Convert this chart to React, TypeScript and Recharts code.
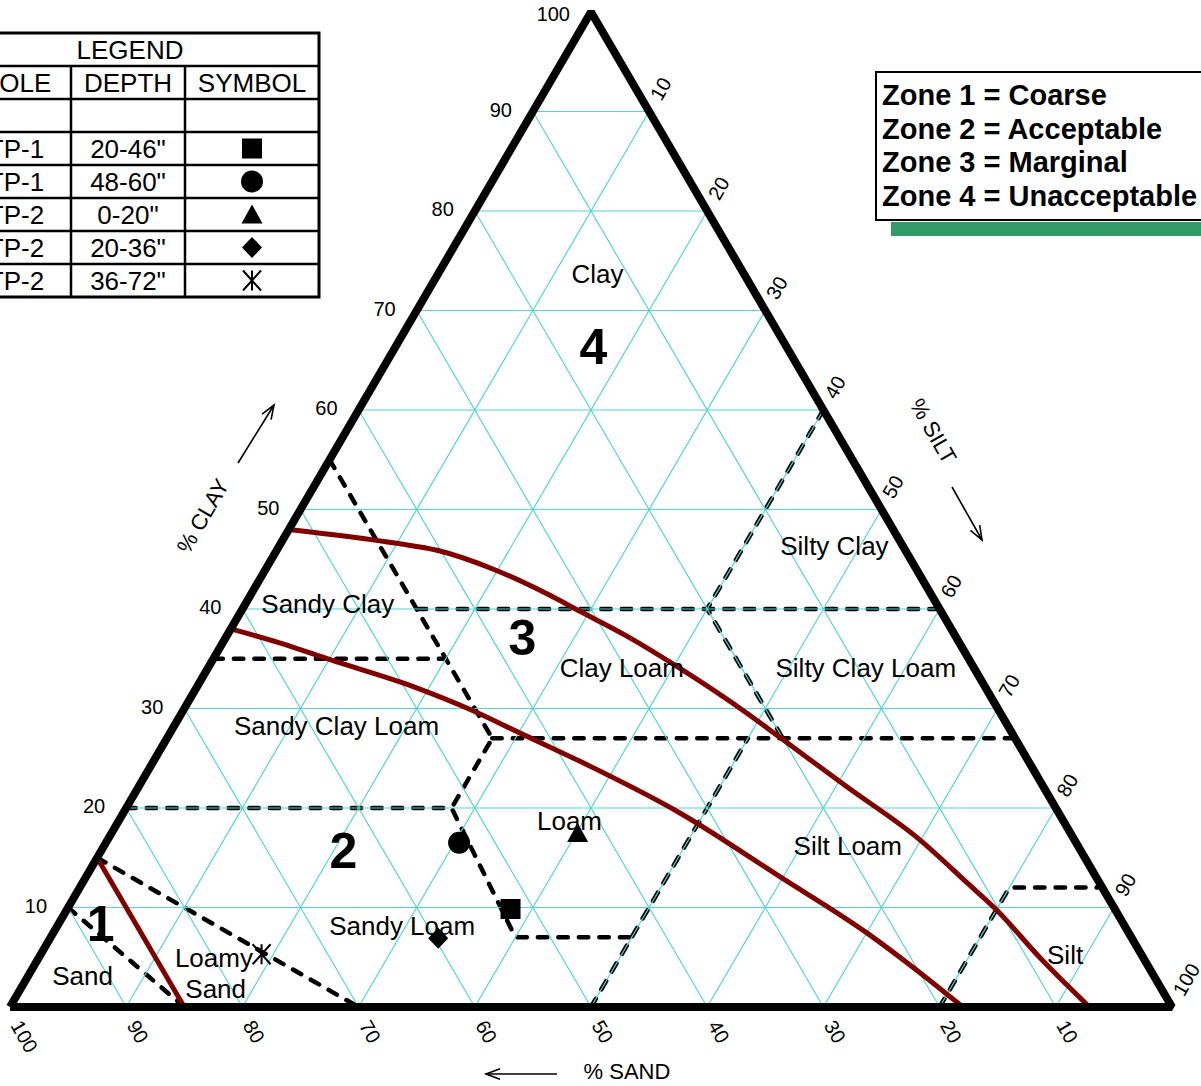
import React from "react";
import { ComposedChart, Line, Scatter, XAxis, YAxis } from "recharts";

const FONT = '"Liberation Sans", Arial, Helvetica, sans-serif';
const GRID_COLOR = "#55d4d4";
const ZONE_COLOR = "#800000";

// every point is [sand %, clay %]; silt is whatever is left
const GRID_STEPS = [10, 20, 30, 40, 50, 60, 70, 80, 90];
const CLAY_TICKS = [10, 20, 30, 40, 50, 60, 70, 80, 90, 100];
const SAND_TICKS = [100, 90, 80, 70, 60, 50, 40, 30, 20, 10];
const SILT_TICKS = [10, 20, 30, 40, 50, 60, 70, 80, 90, 100];

const TRIANGLE = [[100, 0], [0, 100], [0, 0], [100, 0]];

// USDA texture class boundaries (dashed)
const BOUNDARIES = [
  [[90, 10], [85, 0]],
  [[85, 15], [70, 0]],
  [[80, 20], [52, 20], [53, 7], [43, 7]],
  [[50, 0], [23, 27]],
  [[65, 35], [45, 35]],
  [[45, 55], [45, 27], [52, 20]],
  [[45, 27], [0, 27]],
  [[45, 40], [0, 40]],
  [[0, 60], [20, 40], [20, 27]],
  [[20, 0], [8, 12], [0, 12]],
];

// zone limits (dark red)
const ZONE_1_2 = [[85, 15], [85, 0]];
const ZONE_2_3 = [
  [62, 38], [58.5, 36.6], [55, 34.9], [49.2, 32.2], [45.3, 29.8], [42.3, 27.5],
  [39, 25], [32.6, 19.5], [27.2, 13.1], [22.5, 7.4], [20.3, 4], [18, 0],
];
const ZONE_3_4 = [
  [52, 48], [43.4, 46.6], [40.3, 45.9], [36.4, 44], [33, 41.5], [31.1, 39.8],
  [28.1, 37.1], [25.3, 34], [21.8, 29.5], [20.2, 27.1], [16.9, 22.1],
  [13.3, 16.8], [11.4, 12.5], [10.2, 9.7], [8.9, 5], [7.1, 0],
];

const CLASS_NAMES = [
  "Clay", "Silty Clay", "Sandy Clay", "Clay Loam", "Silty Clay Loam",
  "Sandy Clay Loam", "Loam", "Silt Loam", "Sandy Loam", "Sand", "Loamy", "Sand", "Silt",
];
const CLASS_SAND = [12.6, 5.9, 52.4, 30.3, 9.3, 57.8, 42.5, 19.8, 62.2, 92.2, 80.0, 81.4, 6.6];
const CLASS_CLAY = [73.7, 46.3, 40.5, 34.1, 34.1, 28.2, 18.7, 16.2, 8.1, 3.1, 4.9, 1.8, 5.2];

const ZONE_NUMBERS = ["1", "2", "3", "4"];
const ZONE_SAND = [88.0, 63.4, 37.3, 16.6];
const ZONE_CLAY = [8.4, 15.8, 37.2, 66.4];

const SAMPLE_HOLES = ["TP-1", "TP-1", "TP-2", "TP-2", "TP-2"];
const SAMPLE_DEPTHS = ['20-46"', '48-60"', '0-20"', '20-36"', '36-72"'];
const SAMPLE_SYMBOLS = ["square", "circle", "triangle", "diamond", "star"];
const SAMPLE_SAND = [52.0, 53.1, 42.4, 59.7, 75.7];
const SAMPLE_CLAY = [9.85, 16.5, 17.5, 6.9, 5.3];

const ZONE_TEXT = [
  "Zone 1 = Coarse",
  "Zone 2 = Acceptable",
  "Zone 3 = Marginal",
  "Zone 4 = Unacceptable",
];

// ternary -> plot coords: x runs 0..100 along the base, y is clay
const toXY = (sand: number, clay: number) => ({ x: 100 - sand - clay / 2, y: clay });
const path = (pts: number[][]) => pts.map(([s, c]) => toXY(s, c));

const gridSegments = GRID_STEPS.flatMap((v) => [
  path([[100 - v, v], [0, v]]),
  path([[v, 100 - v], [v, 0]]),
  path([[100 - v, 0], [0, 100 - v]]),
]);

const tickPoints = [
  ...CLAY_TICKS.map((c) => ({ ...toXY(100 - c, c), label: String(c), side: "clay" })),
  ...SAND_TICKS.map((s) => ({ ...toXY(s, 0), label: String(s), side: "sand" })),
  ...SILT_TICKS.map((t) => ({ ...toXY(0, 100 - t), label: String(t), side: "silt" })),
];

const classPoints = CLASS_NAMES.map((name, i) => ({
  ...toXY(CLASS_SAND[i], CLASS_CLAY[i]),
  label: name,
}));
const zonePoints = ZONE_NUMBERS.map((n, i) => ({
  ...toXY(ZONE_SAND[i], ZONE_CLAY[i]),
  label: n,
}));
const samplePoints = SAMPLE_SYMBOLS.map((kind, i) => ({
  ...toXY(SAMPLE_SAND[i], SAMPLE_CLAY[i]),
  kind,
}));

function Marker({ kind, cx, cy }: { kind: string; cx: number; cy: number }) {
  switch (kind) {
    case "square":
      return <rect x={cx - 10} y={cy - 10} width={20} height={20} fill="#000" />;
    case "circle":
      return <circle cx={cx} cy={cy} r={11} fill="#000" />;
    case "triangle":
      return (
        <polygon
          points={`${cx},${cy - 10} ${cx + 10.5},${cy + 9} ${cx - 10.5},${cy + 9}`}
          fill="#000"
        />
      );
    case "diamond":
      return (
        <polygon
          points={`${cx},${cy - 10.5} ${cx + 10},${cy} ${cx},${cy + 10.5} ${cx - 10},${cy}`}
          fill="#000"
        />
      );
    default:
      return (
        <g stroke="#000" strokeWidth={2}>
          <line x1={cx} y1={cy - 10} x2={cx} y2={cy + 10} />
          <line x1={cx - 9} y1={cy - 10} x2={cx + 9} y2={cy + 10} />
          <line x1={cx + 9} y1={cy - 10} x2={cx - 9} y2={cy + 10} />
        </g>
      );
  }
}

function TickLabel(p: any) {
  const { cx, cy, payload } = p;
  const common = { fontFamily: FONT, fontSize: 20, fill: "#000" };
  if (payload.side === "clay") {
    return (
      <text
        x={cx - 21}
        y={payload.label === "100" ? cy + 2 : cy - 2}
        textAnchor="end"
        dominantBaseline="central"
        {...common}
      >
        {payload.label}
      </text>
    );
  }
  if (payload.side === "sand") {
    return (
      <text
        transform={`translate(${cx + 6},${cy + 15}) rotate(60)`}
        dominantBaseline="central"
        {...common}
      >
        {payload.label}
      </text>
    );
  }
  return (
    <text
      transform={`translate(${cx + 6},${cy - 13}) rotate(-60)`}
      dominantBaseline="central"
      {...common}
    >
      {payload.label}
    </text>
  );
}

function Arrow({ x1, y1, x2, y2 }: { x1: number; y1: number; x2: number; y2: number }) {
  const a = Math.atan2(y2 - y1, x2 - x1);
  const len = 15;
  const spread = 0.36;
  const p1 = `${x2 - len * Math.cos(a - spread)},${y2 - len * Math.sin(a - spread)}`;
  const p2 = `${x2 - len * Math.cos(a + spread)},${y2 - len * Math.sin(a + spread)}`;
  return (
    <g stroke="#000" strokeWidth={1.6} fill="none">
      <line x1={x1} y1={y1} x2={x2} y2={y2} />
      <polyline points={`${p1} ${x2},${y2} ${p2}`} />
    </g>
  );
}

function Overlay() {
  const rowY = [33, 66, 99, 132, 165, 198, 231, 264, 297];
  const t = { fontFamily: FONT, fontSize: 26, fill: "#000", textAnchor: "middle" as const };
  return (
    <svg
      width={1201}
      height={1086}
      style={{ position: "absolute", left: 0, top: 0, pointerEvents: "none" }}
    >
      {/* legend table */}
      <rect x={-39} y={33} width={358} height={264} fill="#fff" stroke="#000" strokeWidth={3} />
      {rowY.slice(1, -1).map((y) => (
        <line key={y} x1={-39} y1={y} x2={319} y2={y} stroke="#000" strokeWidth={2.5} />
      ))}
      <line x1={71} y1={66} x2={71} y2={297} stroke="#000" strokeWidth={2.5} />
      <line x1={185} y1={66} x2={185} y2={297} stroke="#000" strokeWidth={2.5} />
      <text x={130} y={59} {...t}>LEGEND</text>
      <text x={16} y={92} {...t}>HOLE</text>
      <text x={128} y={92} {...t}>DEPTH</text>
      <text x={252} y={92} {...t}>SYMBOL</text>
      {SAMPLE_HOLES.map((h, i) => {
        const cy = 148.5 + i * 33;
        return (
          <g key={i}>
            <text x={16} y={cy + 9} {...t}>{h}</text>
            <text x={128} y={cy + 9} {...t}>{SAMPLE_DEPTHS[i]}</text>
            <Marker kind={SAMPLE_SYMBOLS[i]} cx={252} cy={cy} />
          </g>
        );
      })}

      {/* zone key */}
      <rect x={891} y={222} width={320} height={14} fill="#339966" />
      <rect x={876} y={72} width={340} height={148} fill="#fff" stroke="#000" strokeWidth={2} />
      {ZONE_TEXT.map((z, i) => (
        <text
          key={z}
          x={882}
          y={105 + i * 33.5}
          fontFamily={FONT}
          fontSize={29}
          fontWeight="bold"
          fill="#000"
        >
          {z}
        </text>
      ))}

      {/* axis titles */}
      <text
        transform="translate(203,516) rotate(-60)"
        textAnchor="middle"
        dominantBaseline="central"
        fontFamily={FONT}
        fontSize={22}
      >
        % CLAY
      </text>
      <Arrow x1={238} y1={463} x2={274} y2={405} />
      <text
        transform="translate(933,431) rotate(60)"
        textAnchor="middle"
        dominantBaseline="central"
        fontFamily={FONT}
        fontSize={22}
      >
        % SILT
      </text>
      <Arrow x1={952} y1={487} x2={982} y2={540} />
      <text x={627} y={1079} textAnchor="middle" fontFamily={FONT} fontSize={22}>
        % SAND
      </text>
      <Arrow x1={557} y1={1074} x2={486} y2={1074} />
    </svg>
  );
}

export default function App() {
  const lineProps = {
    dataKey: "y",
    dot: false,
    activeDot: false,
    isAnimationActive: false,
    type: "linear" as const,
  };
  return (
    <div
      style={{
        position: "absolute",
        left: 0,
        top: 0,
        width: 1201,
        height: 1086,
        overflow: "hidden",
        background: "#fff",
        fontFamily: FONT,
      }}
    >
      <ComposedChart
        width={1201}
        height={1086}
        margin={{ top: 12, right: 29, bottom: 79, left: 10 }}
      >
        <XAxis type="number" dataKey="x" domain={[0, 100]} hide />
        <YAxis type="number" dataKey="y" domain={[0, 100]} hide />

        {BOUNDARIES.map((b, i) => (
          <Line
            key={`b${i}`}
            {...lineProps}
            data={path(b)}
            stroke="#000"
            strokeWidth={4.5}
            strokeDasharray="9.5 11"
            strokeLinecap="round"
          />
        ))}

        {gridSegments.map((seg, i) => (
          <Line key={`g${i}`} {...lineProps} data={seg} stroke={GRID_COLOR} strokeWidth={1.2} />
        ))}

        {[ZONE_1_2, ZONE_2_3, ZONE_3_4].map((z, i) => (
          <Line
            key={`z${i}`}
            {...lineProps}
            type={i === 0 ? "linear" : "monotone"}
            data={path(z)}
            stroke={ZONE_COLOR}
            strokeWidth={5}
            strokeLinecap="round"
          />
        ))}

        <Line
          {...lineProps}
          data={path(TRIANGLE)}
          stroke="#000"
          strokeWidth={8}
          strokeLinejoin="bevel"
        />

        <Scatter
          data={tickPoints}
          isAnimationActive={false}
          shape={(p: any) => <TickLabel {...p} />}
        />
        <Scatter
          data={classPoints}
          isAnimationActive={false}
          shape={(p: any) => (
            <text
              x={p.cx}
              y={p.cy + 9}
              textAnchor="middle"
              fontFamily={FONT}
              fontSize={26}
              fill="#000"
            >
              {p.payload.label}
            </text>
          )}
        />
        <Scatter
          data={zonePoints}
          isAnimationActive={false}
          shape={(p: any) => (
            <text
              x={p.cx}
              y={p.cy + 18}
              textAnchor="middle"
              fontFamily={FONT}
              fontSize={50}
              fontWeight="bold"
              fill="#000"
            >
              {p.payload.label}
            </text>
          )}
        />
        <Scatter
          data={samplePoints}
          isAnimationActive={false}
          shape={(p: any) => <Marker kind={p.payload.kind} cx={p.cx} cy={p.cy} />}
        />
      </ComposedChart>
      <Overlay />
    </div>
  );
}
